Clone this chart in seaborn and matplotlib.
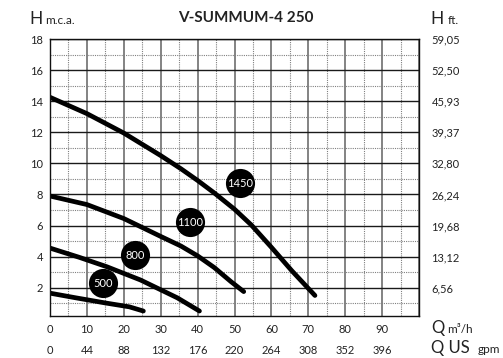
import pandas as pd
import matplotlib.pyplot as plt
import matplotlib.transforms as mtransforms
import seaborn as sns

# curve data (Q in m3/h, H in m.c.a.)
q_1450 = [0, 10, 20, 30, 35.5, 40, 44.5, 50, 54.5, 60, 65.5, 71.8]
h_1450 = [14.25, 13.2, 11.95, 10.5, 9.65, 8.9, 8.1, 7.05, 6.05, 4.6, 3.1, 1.5]
q_1100 = [0, 10, 20, 30, 35.5, 40, 44.5, 49, 52.5]
h_1100 = [7.9, 7.35, 6.45, 5.3, 4.68, 4.05, 3.3, 2.4, 1.75]
q_800 = [0, 8, 15.4, 24.5, 34.5, 40.5]
h_800 = [4.55, 3.95, 3.35, 2.5, 1.35, 0.5]
q_500 = [0, 7, 15, 21.5, 25.3]
h_500 = [1.65, 1.35, 1.02, 0.77, 0.5]

# rpm badges
badge_text = ['1450', '1100', '800', '500']
badge_q = [51.6, 38.0, 23.1, 14.3]
badge_h = [8.72, 6.22, 4.1, 2.3]

# axis labels
q_ticks = [0, 10, 20, 30, 40, 50, 60, 70, 80, 90]
gpm_labels = ['0', '44', '88', '132', '176', '220', '264', '308', '352', '396']
h_ticks = [2, 4, 6, 8, 10, 12, 14, 16, 18]
ft_labels = ['6,56', '13,12', '19,68', '26,24', '32,80', '39,37', '45,93', '52,50', '59,05']

curves = pd.concat([
    pd.DataFrame({'Q': q_1450, 'H': h_1450, 'rpm': '1450'}),
    pd.DataFrame({'Q': q_1100, 'H': h_1100, 'rpm': '1100'}),
    pd.DataFrame({'Q': q_800, 'H': h_800, 'rpm': '800'}),
    pd.DataFrame({'Q': q_500, 'H': h_500, 'rpm': '500'}),
])
badges = pd.DataFrame({'Q': badge_q, 'H': badge_h, 'label': badge_text})

sns.set_theme(style='white')
plt.rcParams['font.family'] = ['Lato', 'DejaVu Sans']
plt.rcParams['text.color'] = '#222222'

fig = plt.figure(figsize=(5.03, 3.58), dpi=100)
ax = fig.add_axes([50 / 503, 42.3 / 358, 369 / 503, 276.7 / 358])

sns.lineplot(data=curves, x='Q', y='H', hue='rpm', units='rpm', estimator=None,
             sort=False, palette=['black'] * 4, linewidth=3.4, legend=False,
             solid_capstyle='round', solid_joinstyle='round', ax=ax)
sns.scatterplot(data=badges, x='Q', y='H', color='black', s=440, linewidth=0,
                legend=False, ax=ax, zorder=5)
for _, r in badges.iterrows():
    ax.text(r['Q'], r['H'], r['label'], color='white', fontsize=8,
            ha='center', va='center', zorder=6)

ax.set_xlim(0, 100)
ax.set_ylim(0.2, 18)
ax.set_xticks(q_ticks + [100])
ax.set_xticklabels([str(t) for t in q_ticks] + [''])
ax.set_xticks(range(5, 100, 10), minor=True)
ax.set_yticks(h_ticks)
ax.set_yticklabels([str(t) for t in h_ticks])
ax.set_yticks(range(1, 18, 2), minor=True)
ax.tick_params(axis='both', which='both', length=0, labelsize=8, colors='#222222')
ax.tick_params(axis='x', pad=6)
ax.tick_params(axis='y', pad=5)
ax.set_xlabel('')
ax.set_ylabel('')

ax.xaxis.grid(True, which='major', color='#7a7a7a', linewidth=1.3)
ax.yaxis.grid(True, which='major', color='#1a1a1a', linewidth=1.0)
ax.grid(True, which='minor', color='#808080', linewidth=0.8, linestyle=(0, (1, 1)))
ax.set_axisbelow(True)
for s in ax.spines.values():
    s.set_color('#111111')
    s.set_linewidth(1.0)

ax2 = ax.twinx()
ax2.set_ylim(0.2, 18)
ax2.set_yticks(h_ticks)
ax2.set_yticklabels(ft_labels)
ax2.tick_params(axis='y', length=0, labelsize=8, pad=9, colors='#222222')
ax2.grid(False)
for s in ax2.spines.values():
    s.set_visible(False)

# second row of flow labels (US gpm)
trans = mtransforms.blended_transform_factory(ax.transData, fig.transFigure)
for q, lab in zip(q_ticks, gpm_labels):
    ax.text(q, 1 - 350 / 358, lab, transform=trans, fontsize=8,
            ha='center', va='center', color='#222222')

# title and unit labels
fig.text(246 / 503, 1 - 18 / 358, 'V-SUMMUM-4 250', fontsize=11, fontweight='bold',
         ha='center', va='center')
fig.text(29 / 503, 1 - 24 / 358, 'H', fontsize=12.5, va='baseline')
fig.text(45 / 503, 1 - 24 / 358, 'm.c.a.', fontsize=8.5, va='baseline')
fig.text(430 / 503, 1 - 24 / 358, 'H', fontsize=12.5, va='baseline')
fig.text(448 / 503, 1 - 24 / 358, 'ft.', fontsize=8.5, va='baseline')
fig.text(431 / 503, 1 - 333 / 358, 'Q', fontsize=12, va='baseline')
fig.text(447 / 503, 1 - 333 / 358, 'm³/h', fontsize=8.5, va='baseline')
fig.text(431 / 503, 1 - 353 / 358, 'Q US', fontsize=12, va='baseline')
fig.text(478 / 503, 1 - 353 / 358, 'gpm', fontsize=8.5, va='baseline')

fig.savefig('out.png', dpi=100)
